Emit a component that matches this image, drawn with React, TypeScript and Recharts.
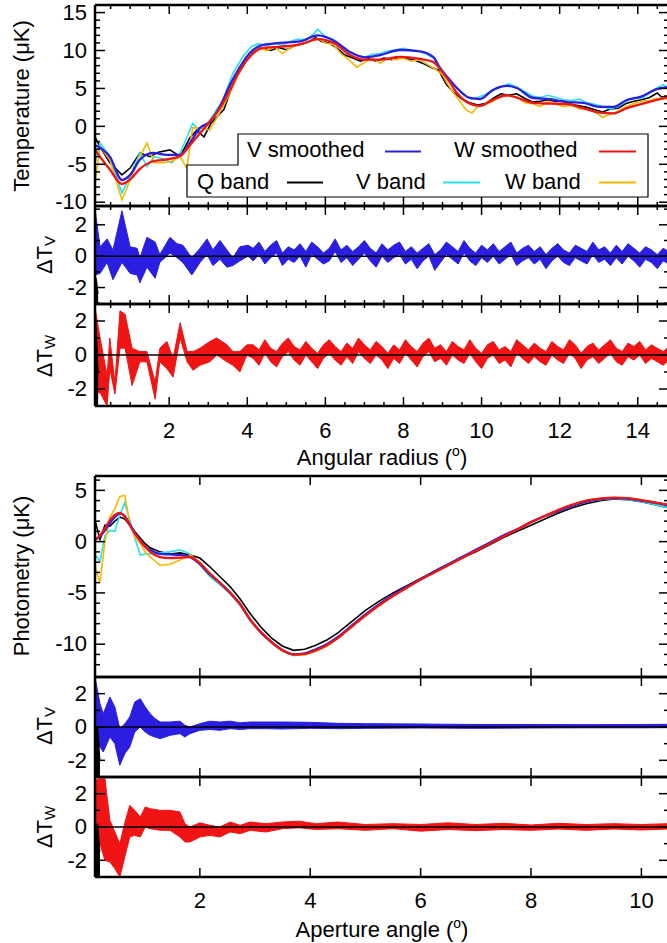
import React from 'react';
import { ComposedChart, Line, Area, XAxis, YAxis, ReferenceLine } from 'recharts';

const FONT = '"Liberation Sans", Arial, Helvetica, sans-serif';
const BLUE = '#2a1fe0';
const RED = '#f01414';
const CYAN = '#27dff0';
const GOLD = '#f5b700';

// ---- top group: angular radius profiles ----
const radiusSmooth = [0.1, 0.48, 0.79, 1.0, 1.25, 1.59, 1.94, 2.28, 2.53, 2.79, 3.04, 3.3, 3.56, 3.81, 4.07, 4.38, 4.84, 5.35, 5.81, 6.25, 6.63, 7.01, 7.4, 7.91, 8.42, 8.76, 8.93, 9.19, 9.37, 9.7, 9.96, 10.29, 10.65, 10.9, 11.32, 11.75, 12.19, 12.6, 13.03, 13.37, 13.72, 14.06, 14.49, 14.8];
const vSmoothed = [-2.45, -4.0, -7.07, -6.4, -4.4, -3.5, -3.77, -3.77, -2.2, -0.2, 0.6, 2.6, 5.5, 7.8, 9.7, 10.7, 11.0, 11.2, 12.0, 11.2, 9.8, 9.1, 9.4, 10.07, 9.9, 9.15, 7.7, 6.1, 5.06, 3.74, 3.6, 4.8, 5.33, 5.06, 3.74, 3.6, 3.2, 3.1, 2.56, 2.56, 3.48, 3.88, 4.9, 5.2];
const wSmoothed = [-3.1, -5.7, -7.6, -7.0, -5.6, -4.6, -4.35, -3.9, -2.5, -0.9, 0.6, 2.4, 4.8, 7.4, 9.2, 10.3, 10.5, 10.8, 11.5, 10.9, 9.4, 8.8, 8.8, 9.15, 8.9, 8.5, 7.6, 5.8, 4.4, 3.0, 2.7, 3.5, 4.1, 3.8, 3.1, 3.0, 2.95, 2.4, 1.8, 1.7, 2.4, 2.9, 3.5, 3.9];

const radiusQ = [0.1, 0.23, 0.48, 0.79, 1.0, 1.25, 1.51, 1.72, 2.02, 2.28, 2.53, 2.71, 2.89, 3.07, 3.4, 3.64, 3.99, 4.2, 4.4, 4.6, 4.8, 5.0, 5.2, 5.4, 5.6, 5.75, 5.9, 6.1, 6.3, 6.5, 6.7, 6.9, 7.1, 7.3, 7.5, 7.7, 7.9, 8.1, 8.3, 8.5, 8.7, 8.9, 9.1, 9.3, 9.5, 9.7, 9.9, 10.1, 10.3, 10.5, 10.7, 10.9, 11.1, 11.3, 11.5, 11.7, 11.9, 12.1, 12.3, 12.5, 12.7, 12.9, 13.1, 13.3, 13.5, 13.7, 13.9, 14.1, 14.3, 14.5, 14.6, 14.8];
const qBand = [-1.4, -2.7, -4.8, -6.4, -5.5, -3.5, -4.0, -3.4, -3.1, -4.0, -1.5, -0.5, -1.4, 0.4, 2.2, 5.7, 8.8, 10.0, 10.3, 10.0, 10.4, 10.1, 10.6, 10.9, 11.2, 11.7, 11.2, 11.0, 10.3, 9.4, 9.0, 8.6, 8.9, 8.6, 9.0, 8.8, 9.1, 8.9, 8.7, 8.3, 7.8, 7.4, 5.5, 4.4, 3.6, 3.1, 2.8, 3.0, 3.7, 4.3, 4.1, 4.3, 3.7, 3.2, 3.3, 3.5, 3.3, 3.4, 2.9, 2.7, 2.5, 2.2, 1.9, 2.3, 2.4, 3.0, 3.3, 3.5, 3.8, 4.4, 3.9, 3.9];

const radiusVW = [0.1, 0.23, 0.48, 0.79, 1.03, 1.25, 1.43, 1.62, 1.85, 2.07, 2.28, 2.45, 2.6, 2.81, 3.04, 3.38, 3.63, 3.89, 4.1, 4.3, 4.5, 4.7, 4.9, 5.1, 5.3, 5.5, 5.7, 5.8, 6.0, 6.2, 6.4, 6.6, 6.8, 7.0, 7.2, 7.4, 7.6, 7.8, 8.0, 8.2, 8.4, 8.6, 8.8, 9.0, 9.2, 9.4, 9.6, 9.75, 9.9, 10.1, 10.3, 10.5, 10.7, 10.9, 11.1, 11.3, 11.5, 11.7, 11.9, 12.1, 12.3, 12.5, 12.7, 12.9, 13.1, 13.3, 13.5, 13.7, 13.9, 14.1, 14.3, 14.5, 14.65, 14.8];
const vBand = [-4.8, -2.2, -4.0, -8.8, -6.2, -3.5, -5.3, -4.0, -4.3, -4.8, -3.5, -1.5, 0.4, -0.7, 0.8, 3.5, 7.0, 9.2, 10.5, 10.9, 10.6, 11.0, 10.7, 11.2, 11.5, 11.4, 12.2, 12.8, 11.8, 11.5, 10.5, 9.8, 9.4, 9.1, 9.5, 9.6, 9.9, 10.1, 10.3, 10.0, 9.9, 9.5, 8.9, 7.4, 6.0, 4.9, 4.0, 3.6, 3.8, 4.2, 4.8, 5.2, 5.6, 5.2, 4.6, 4.0, 3.8, 4.1, 3.8, 3.5, 3.4, 3.6, 3.1, 2.9, 2.6, 2.3, 2.6, 3.3, 3.8, 3.7, 4.4, 5.1, 5.5, 5.0];
const wBand = [-7.5, -2.7, -4.4, -9.7, -6.7, -4.0, -2.2, -4.8, -4.8, -4.6, -4.0, -5.5, -0.2, -0.2, -0.5, 2.6, 5.2, 8.2, 9.8, 10.4, 10.0, 10.5, 9.6, 10.4, 10.8, 11.0, 11.4, 11.6, 11.0, 10.8, 9.6, 8.8, 7.8, 8.4, 9.0, 8.3, 9.0, 8.8, 9.0, 8.6, 8.8, 8.2, 7.6, 6.8, 5.0, 3.6, 2.2, 1.75, 2.6, 2.9, 3.3, 4.0, 4.0, 3.9, 3.1, 3.0, 2.6, 3.3, 2.9, 2.6, 2.8, 2.3, 2.3, 1.9, 1.2, 1.6, 2.0, 2.6, 3.0, 3.3, 3.4, 3.7, 3.6, 3.6];

// residual bands, inner radii
const radiusDVInner = [0.1, 0.23, 0.41, 0.56, 0.79, 1.0, 1.18, 1.25, 1.43, 1.64, 1.76, 2.02, 2.2, 2.35, 2.58, 2.79, 2.97, 3.12, 3.3, 3.48, 3.63, 3.81, 4.02];
const dvLowInner = [-1.2, -1.1, -0.4, -1.5, -0.4, -1.1, -1.2, -1.7, -0.7, -1.4, -0.4, 0.2, -0.1, -0.4, -1.2, -0.4, 0.1, -0.6, -0.2, -0.7, -0.6, -0.3, 0.0];
const dvHighInner = [3.0, 0.6, 1.1, 0.4, 2.9, 0.6, 0.5, -0.1, 1.2, 0.9, 0.1, 1.2, 0.8, 0.7, -0.1, 0.5, 1.1, 0.4, 1.0, 0.4, -0.1, 0.6, 0.7];
const radiusDWInner = [0.1, 0.23, 0.41, 0.48, 0.61, 0.74, 0.87, 1.05, 1.25, 1.43, 1.64, 1.76, 1.94, 2.1, 2.28, 2.46, 2.61, 2.79, 3.04, 3.22, 3.48, 3.63, 3.81, 3.99];
const dwLowInner = [-2.3, -2.2, -3.0, -0.8, -2.3, 0.4, 0.4, -1.8, -0.4, -0.4, -2.6, -0.4, -0.8, -1.3, 1.0, -0.4, -0.9, -0.6, -0.4, 0.0, -0.4, -0.6, -1.0, 0.0];
const dwHighInner = [2.8, 1.0, -1.2, 1.0, -1.6, 2.6, 2.4, 0.4, 0.2, 0.2, -1.6, 0.4, 0.8, -0.2, 1.9, 0.2, 0.2, 0.4, 0.8, 1.0, 0.6, 0.2, 0.2, 0.6];

// residual bands, outer radii (shared bins)
const radiusOuter = [4.15, 4.3, 4.45, 4.6, 4.75, 4.9, 5.05, 5.2, 5.35, 5.5, 5.65, 5.8, 5.95, 6.1, 6.25, 6.4, 6.55, 6.7, 6.85, 7.0, 7.15, 7.3, 7.45, 7.6, 7.75, 7.9, 8.05, 8.2, 8.35, 8.5, 8.65, 8.8, 8.95, 9.1, 9.25, 9.4, 9.55, 9.7, 9.85, 10.0, 10.15, 10.3, 10.45, 10.6, 10.75, 10.9, 11.05, 11.2, 11.35, 11.5, 11.65, 11.8, 11.95, 12.1, 12.25, 12.4, 12.55, 12.7, 12.85, 13.0, 13.15, 13.3, 13.45, 13.6, 13.75, 13.9, 14.05, 14.2, 14.35, 14.5, 14.65, 14.8];
const dvHighOuter = [0.5, 0.9, 0.3, 0.7, 1.0, 0.2, 0.6, 0.4, 0.8, 0.3, 0.9, 0.6, 0.2, 0.5, 1.1, 0.4, 0.7, 0.3, 0.6, 1.0, 0.5, 0.2, 0.8, 0.4, 0.7, 0.9, 0.3, 0.6, 0.2, 0.5, 0.8, 0.1, 0.4, 0.9, 0.6, 0.3, 1.0, 0.5, 0.2, 0.7, 0.4, 0.8, 0.3, 0.6, 0.9, 0.2, 0.5, 0.7, 0.3, 0.6, 0.1, 0.5, 0.8, 0.4, 0.2, 0.7, 0.5, 0.3, 0.9, 0.4, 0.6, 0.2, 0.7, 0.3, 0.8, 0.5, 0.2, 0.6, 0.4, 0.1, 0.5, 0.3];
const dvLowOuter = [-0.3, 0.1, -0.5, -0.1, 0.2, -0.6, -0.2, -0.4, 0.0, -0.7, 0.1, -0.2, -0.5, -0.3, 0.3, -0.4, -0.1, -0.6, -0.2, 0.2, -0.3, -0.7, 0.0, -0.4, -0.1, 0.1, -0.5, -0.2, -0.8, -0.3, 0.0, -0.9, -0.4, 0.1, -0.2, -0.5, 0.2, -0.3, -0.6, -0.1, -0.4, 0.0, -0.5, -0.2, 0.1, -0.6, -0.3, -0.1, -0.5, -0.2, -0.8, -0.3, 0.0, -0.4, -0.6, -0.1, -0.3, -0.5, 0.1, -0.4, -0.2, -0.6, -0.1, -0.5, 0.0, -0.3, -0.7, -0.2, -0.4, -0.8, -0.3, -0.5];
const dwHighOuter = [0.6, 0.3, 0.9, 0.4, 0.2, 0.7, 1.0, 0.5, 0.3, 0.8, 0.4, 0.1, 0.6, 0.9, 0.5, 0.2, 0.7, 0.4, 1.0, 0.6, 0.3, 0.8, 0.5, 0.1, 0.6, 0.3, 0.9, 0.5, 0.2, 0.7, 1.0, 0.4, 0.6, 0.2, 0.8, 0.5, 0.3, 0.9, 0.4, 0.1, 0.6, 0.8, 0.3, 0.5, 0.2, 0.9, 0.6, 0.3, 0.7, 0.4, 0.2, 0.8, 0.5, 0.3, 0.9, 0.6, 0.1, 0.5, 0.7, 0.3, 0.6, 0.9, 0.4, 0.2, 0.7, 0.5, 0.8, 0.3, 0.6, 0.4, 0.2, 0.5];
const dwLowOuter = [-0.2, -0.6, 0.1, -0.4, -0.7, -0.1, 0.2, -0.3, -0.6, 0.0, -0.4, -0.8, -0.2, 0.1, -0.3, -0.6, -0.1, -0.5, 0.2, -0.2, -0.5, 0.0, -0.3, -0.8, -0.2, -0.5, 0.1, -0.3, -0.7, -0.1, 0.2, -0.4, -0.2, -0.6, 0.0, -0.3, -0.5, 0.1, -0.4, -0.8, -0.2, 0.0, -0.5, -0.3, -0.7, 0.1, -0.2, -0.5, -0.1, -0.4, -0.6, 0.0, -0.3, -0.5, 0.1, -0.2, -0.8, -0.3, -0.1, -0.5, -0.2, 0.1, -0.4, -0.6, -0.1, -0.3, 0.0, -0.5, -0.2, -0.4, -0.6, -0.3];

// Q-band differences only show as a dark sliver at the first bins
const radiusDQ = [0.1, 0.14, 0.18];
const dqvLow = [-3.0, -3.0, -3.0];
const dqvHigh = [-1.2, -1.5, -2.4];
const dqwLow = [-3.0, -3.0, -3.0];
const dqwHigh = [2.8, 1.2, -1.0];

// ---- bottom group: aperture photometry ----
const aperture = [0.1, 0.19, 0.28, 0.37, 0.46, 0.55, 0.64, 0.73, 0.82, 0.92, 1.01, 1.1, 1.28, 1.46, 1.64, 1.82, 2.0, 2.18, 2.36, 2.55, 2.73, 2.91, 3.1, 3.3, 3.5, 3.7, 3.9, 4.1, 4.3, 4.5, 4.75, 5.0, 5.25, 5.5, 5.75, 6.0, 6.25, 6.5, 6.75, 7.0, 7.25, 7.5, 7.75, 8.0, 8.25, 8.5, 8.75, 9.0, 9.25, 9.5, 9.75, 10.0, 10.25, 10.5];
const photoVs = [0.15, 0.5, 1.1, 1.8, 2.4, 2.75, 2.5, 1.7, 0.9, 0.1, -0.5, -0.8, -1.2, -1.25, -1.3, -1.5, -2.2, -3.2, -4.0, -5.0, -6.1, -7.6, -8.8, -9.8, -10.6, -11.0, -10.9, -10.5, -10.0, -9.3, -8.2, -7.1, -6.1, -5.2, -4.4, -3.7, -2.9, -2.2, -1.5, -0.8, -0.1, 0.6, 1.2, 1.9, 2.5, 3.0, 3.5, 3.9, 4.15, 4.25, 4.2, 4.0, 3.8, 3.5];
const photoWs = [0.15, 0.6, 1.3, 2.1, 2.6, 2.8, 2.4, 1.6, 0.8, 0.1, -0.5, -1.0, -1.5, -1.6, -1.55, -1.5, -2.1, -3.1, -4.0, -5.0, -6.1, -7.6, -8.8, -9.8, -10.6, -11.0, -10.95, -10.6, -10.1, -9.4, -8.3, -7.2, -6.2, -5.3, -4.5, -3.7, -3.0, -2.3, -1.6, -0.9, -0.2, 0.5, 1.2, 1.9, 2.5, 3.1, 3.6, 4.0, 4.2, 4.3, 4.25, 4.05, 3.8, 3.6];
const photoQ = [2.1, 0.2, 1.6, 1.5, 2.0, 2.4, 2.2, 1.6, 1.0, 0.35, -0.2, -0.6, -1.0, -1.2, -1.1, -1.3, -1.6, -2.45, -3.4, -4.4, -5.6, -7.0, -8.3, -9.4, -10.2, -10.6, -10.5, -10.1, -9.6, -8.9, -7.8, -6.7, -5.8, -5.0, -4.3, -3.6, -2.9, -2.3, -1.6, -1.0, -0.3, 0.4, 1.0, 1.6, 2.2, 2.8, 3.3, 3.7, 4.0, 4.15, 4.1, 3.9, 3.6, 3.3];
const photoV = [-1.3, -1.9, 0.6, 1.1, 1.0, 2.6, 3.8, 2.1, 0.4, -1.3, -1.2, -1.2, -1.1, -1.0, -0.8, -1.2, -2.2, -3.4, -4.2, -5.1, -6.2, -7.7, -8.9, -9.9, -10.7, -11.1, -11.0, -10.6, -10.1, -9.4, -8.3, -7.2, -6.1, -5.2, -4.4, -3.7, -2.9, -2.2, -1.5, -0.8, -0.1, 0.6, 1.2, 1.9, 2.5, 3.0, 3.5, 3.9, 4.1, 4.2, 4.1, 3.9, 3.6, 3.3];
const photoW = [-2.4, -4.0, 0.0, 2.4, 3.2, 4.4, 4.5, 1.8, 0.5, -0.2, -1.0, -1.5, -2.3, -2.2, -1.8, -1.3, -2.0, -3.2, -4.0, -5.0, -6.0, -7.5, -8.8, -9.9, -10.7, -11.1, -11.05, -10.7, -10.2, -9.4, -8.3, -7.2, -6.2, -5.3, -4.5, -3.7, -3.0, -2.3, -1.6, -0.9, -0.2, 0.5, 1.2, 1.9, 2.5, 3.1, 3.6, 4.0, 4.2, 4.3, 4.25, 4.05, 3.8, 3.55];

const apertureDV = [0.1, 0.19, 0.25, 0.37, 0.46, 0.55, 0.64, 0.73, 0.82, 0.92, 1.01, 1.1, 1.19, 1.28, 1.46, 1.64, 1.73, 1.82, 2.0, 2.18, 2.36, 2.55, 2.73, 2.91, 3.2, 3.5, 4.0, 4.5, 5.0, 6.0, 7.0, 8.0, 9.0, 10.0, 10.5];
const pdvLow = [-1.0, -1.2, -1.5, -0.6, -1.0, -2.3, -1.6, -1.2, -0.3, 0.0, -0.3, -0.5, -0.6, -0.7, -0.5, -0.4, -0.6, -0.4, -0.2, -0.15, -0.2, -0.1, -0.15, -0.1, -0.1, -0.12, -0.08, -0.1, -0.08, -0.06, -0.08, -0.06, -0.05, -0.05, -0.04];
const pdvHigh = [3.0, 1.4, 0.8, 1.8, 1.2, -0.1, 0.2, 0.6, 1.5, 1.7, 1.2, 0.8, 0.5, 0.3, 0.3, 0.35, 0.1, 0.0, 0.2, 0.35, 0.3, 0.35, 0.25, 0.3, 0.3, 0.3, 0.28, 0.22, 0.2, 0.18, 0.15, 0.15, 0.14, 0.15, 0.16];

const apertureDW = [0.1, 0.19, 0.28, 0.37, 0.46, 0.55, 0.64, 0.73, 0.82, 0.92, 1.01, 1.1, 1.28, 1.46, 1.64, 1.73, 1.82, 2.0, 2.18, 2.36, 2.55, 2.73, 2.91, 3.2, 3.5, 3.8, 4.1, 4.5, 5.0, 5.5, 6.0, 6.5, 7.0, 7.5, 8.0, 8.5, 9.0, 9.5, 10.0, 10.5];
const pdwLow = [0.2, -1.0, -2.0, -2.1, -2.5, -3.0, -1.8, -0.6, -0.5, -0.6, 0.0, -0.1, -0.2, -0.2, -0.6, -0.9, -0.9, -0.6, -0.5, -0.6, -0.3, -0.4, -0.2, -0.3, -0.1, -0.05, -0.15, -0.1, -0.2, -0.1, -0.25, -0.15, -0.22, -0.15, -0.2, -0.12, -0.2, -0.12, -0.18, -0.12];
const pdwHigh = [2.8, 2.9, 2.9, 0.4, -0.3, -1.0, 0.25, 1.3, 1.0, 0.6, 1.2, 1.1, 1.0, 1.0, 0.9, 0.2, 0.0, 0.25, 0.1, 0.0, 0.3, 0.1, 0.3, 0.2, 0.3, 0.35, 0.2, 0.3, 0.15, 0.2, 0.15, 0.25, 0.15, 0.22, 0.12, 0.22, 0.15, 0.2, 0.15, 0.2];

const apertureDQ = [0.1, 0.15, 0.19];
const pdqvLow = [-3.0, -3.0, -3.0];
const pdqvHigh = [-0.2, 0.0, -2.0];
const pdqwLow = [-3.0, -3.0, -3.0];
const pdqwHigh = [0.0, 0.2, -1.5];

// ---- ticks ----
const radiusMajor = [2, 4, 6, 8, 10, 12, 14];
const radiusTicks = Array.from({ length: 29 }, (_, i) => 0.5 + i * 0.5);
const apertureMajor = [2, 4, 6, 8, 10];
const tempMajor = [-10, -5, 0, 5, 10, 15];
const tempTicks = Array.from({ length: 26 }, (_, i) => -10 + i);
const photoMajor = [-10, -5, 0, 5];
const photoTicks = Array.from({ length: 19 }, (_, i) => -12 + i);
const deltaMajor = [-2, 0, 2];
const deltaTicks = [-3, -2, -1, 0, 1, 2, 3];

const pts = (xs: number[], ys: number[]) => xs.map((x, i) => ({ x, y: ys[i] }));
const band = (xs: number[], lo: number[], hi: number[]) => xs.map((x, i) => ({ x, r: [lo[i], hi[i]] }));

type Side = 'bottom' | 'top' | 'left' | 'right';
const isIn = (list: number[], v: number) => list.some((t) => Math.abs(t - v) < 1e-6);

const tickShape = (side: Side, majors: number[], labels: boolean, labelGap: number) => (p: any) => {
  const { x, y, payload } = p;
  const v = payload.value;
  const major = isIn(majors, v);
  const horiz = side === 'bottom' || side === 'top';
  const len = major ? (horiz ? 9 : 10) : (horiz ? 4 : 5);
  let x2 = x;
  let y2 = y;
  if (side === 'bottom') y2 = y - len;
  if (side === 'top') y2 = y + len;
  if (side === 'left') x2 = x + len;
  if (side === 'right') x2 = x - len;
  return (
    <g>
      <line x1={x} y1={y} x2={x2} y2={y2} stroke="#000" strokeWidth={1.5} />
      {labels && major && side === 'bottom' && (
        <text x={x} y={y + labelGap} textAnchor="middle" fontSize={22} fontFamily={FONT} fill="#000">{v}</text>
      )}
      {labels && major && side === 'left' && (
        <text x={x - 8} y={y} dy="0.33em" textAnchor="end" fontSize={22} fontFamily={FONT} fill="#000">{v}</text>
      )}
    </g>
  );
};

// plot area geometry (px); axes are given 1px so that Recharts draws them
const PLOT_LEFT = 95;
const PLOT_W = 574;
const MT = 4;
const MB = 46;
const MR = 12;

interface PanelProps {
  top: number;
  height: number;
  xDomain: [number, number];
  xMajor: number[];
  xTicks: number[];
  yDomain: [number, number];
  yMajor: number[];
  yTicks: number[];
  xLabels?: boolean;
  labelGap?: number;
  zero?: boolean;
  children?: React.ReactNode;
}

const axisLine = { stroke: '#000', strokeWidth: 2.5 };

const Panel = ({ top, height, xDomain, xMajor, xTicks, yDomain, yMajor, yTicks, xLabels = false, labelGap = 32, zero = false, children }: PanelProps) => (
  <div style={{ position: 'absolute', left: 0, top: top - MT }}>
    <ComposedChart
      width={PLOT_LEFT + PLOT_W + MR}
      height={height + MT + MB}
      margin={{ top: MT - 1, right: MR - 1, bottom: MB - 1, left: PLOT_LEFT - 1 }}
    >
      <XAxis xAxisId={0} type="number" dataKey="x" domain={xDomain} allowDataOverflow ticks={xTicks} interval={0}
        height={1} tickSize={0} tickMargin={0} tickLine={false} axisLine={axisLine}
        tick={tickShape('bottom', xMajor, xLabels, labelGap)} />
      <XAxis xAxisId="t" orientation="top" type="number" dataKey="x" domain={xDomain} allowDataOverflow ticks={xTicks} interval={0}
        height={1} tickSize={0} tickMargin={0} tickLine={false} axisLine={axisLine}
        tick={tickShape('top', xMajor, false, 0)} />
      <YAxis yAxisId={0} type="number" domain={yDomain} allowDataOverflow ticks={yTicks} interval={0}
        width={1} tickSize={0} tickMargin={0} tickLine={false} axisLine={axisLine}
        tick={tickShape('left', yMajor, true, 0)} />
      <YAxis yAxisId="r" orientation="right" type="number" domain={yDomain} allowDataOverflow ticks={yTicks} interval={0}
        width={1} tickSize={0} tickMargin={0} tickLine={false} axisLine={axisLine}
        tick={tickShape('right', yMajor, false, 0)} />
      {children}
      {zero && <ReferenceLine y={0} stroke="#000" strokeWidth={1.5} />}
    </ComposedChart>
  </div>
);

const smoothLine = (data: any[], color: string) => (
  <Line data={data} dataKey="y" type="monotone" stroke={color} strokeWidth={2.3} dot={false} isAnimationActive={false} />
);
const bandLine = (data: any[], color: string) => (
  <Line data={data} dataKey="y" type="linear" stroke={color} strokeWidth={1.6} dot={false} isAnimationActive={false} />
);
const diffArea = (data: any[], color: string) => (
  <Area data={data} dataKey="r" type="linear" stroke={color} strokeWidth={1} fill={color} fillOpacity={1} isAnimationActive={false} />
);

const Deg = () => (
  <>
    <tspan dy={-9} fontSize={14}>o</tspan>
    <tspan dy={9}>)</tspan>
  </>
);

export default function App() {
  const rDomain: [number, number] = [0.1, 14.8];
  const aDomain: [number, number] = [0.1, 10.5];
  const dDomain: [number, number] = [-3, 3];
  const dvData = band(radiusDVInner.concat(radiusOuter), dvLowInner.concat(dvLowOuter), dvHighInner.concat(dvHighOuter));
  const dwData = band(radiusDWInner.concat(radiusOuter), dwLowInner.concat(dwLowOuter), dwHighInner.concat(dwHighOuter));
  return (
    <div style={{ position: 'absolute', left: 0, top: 0, width: 667, height: 943, overflow: 'hidden', background: '#fff', fontFamily: FONT }}>
      <Panel top={5} height={201} xDomain={rDomain} xMajor={radiusMajor} xTicks={radiusTicks} yDomain={[-10.5, 16]} yMajor={tempMajor} yTicks={tempTicks}>
        {bandLine(pts(radiusQ, qBand), '#000')}
        {bandLine(pts(radiusVW, vBand), CYAN)}
        {bandLine(pts(radiusVW, wBand), GOLD)}
        {smoothLine(pts(radiusSmooth, vSmoothed), BLUE)}
        {smoothLine(pts(radiusSmooth, wSmoothed), RED)}
      </Panel>
      <Panel top={206} height={98} xDomain={rDomain} xMajor={radiusMajor} xTicks={radiusTicks} yDomain={[-3.05, 3.2]} yMajor={deltaMajor} yTicks={deltaTicks} zero>
        {diffArea(band(radiusDQ, dqvLow, dqvHigh), '#000')}
        {diffArea(dvData, BLUE)}
      </Panel>
      <Panel top={304} height={102} xDomain={rDomain} xMajor={radiusMajor} xTicks={radiusTicks} yDomain={dDomain} yMajor={deltaMajor} yTicks={deltaTicks} zero xLabels labelGap={32}>
        {diffArea(dwData, RED)}
        {diffArea(band(radiusDQ, dqwLow, dqwHigh), '#000')}
      </Panel>

      <Panel top={476} height={201} xDomain={aDomain} xMajor={apertureMajor} xTicks={apertureMajor} yDomain={[-13.2, 6.4]} yMajor={photoMajor} yTicks={photoTicks}>
        {bandLine(pts(aperture, photoQ), '#000')}
        {bandLine(pts(aperture, photoV), CYAN)}
        {bandLine(pts(aperture, photoW), GOLD)}
        {smoothLine(pts(aperture, photoVs), BLUE)}
        {smoothLine(pts(aperture, photoWs), RED)}
      </Panel>
      <Panel top={677} height={100} xDomain={aDomain} xMajor={apertureMajor} xTicks={apertureMajor} yDomain={dDomain} yMajor={deltaMajor} yTicks={deltaTicks} zero>
        {diffArea(band(apertureDV, pdvLow, pdvHigh), BLUE)}
        {diffArea(band(apertureDQ, pdqvLow, pdqvHigh), '#000')}
      </Panel>
      <Panel top={777} height={100} xDomain={aDomain} xMajor={apertureMajor} xTicks={apertureMajor} yDomain={dDomain} yMajor={deltaMajor} yTicks={deltaTicks} zero xLabels labelGap={31}>
        {diffArea(band(apertureDW, pdwLow, pdwHigh), RED)}
        {diffArea(band(apertureDQ, pdqwLow, pdqwHigh), '#000')}
      </Panel>

      <svg width={667} height={943} style={{ position: 'absolute', left: 0, top: 0, pointerEvents: 'none' }} fontFamily={FONT} fontSize={22}>
        <text transform="translate(29,106) rotate(-90)" textAnchor="middle">Temperature (μK)</text>
        <text transform="translate(52,255) rotate(-90)" textAnchor="middle">ΔT<tspan fontSize={15} dy={3}>V</tspan></text>
        <text transform="translate(52,356) rotate(-90)" textAnchor="middle">ΔT<tspan fontSize={15} dy={3}>W</tspan></text>
        <text x={382} y={465} textAnchor="middle">Angular radius (<Deg /></text>

        <text transform="translate(29,576) rotate(-90)" textAnchor="middle">Photometry (μK)</text>
        <text transform="translate(52,726) rotate(-90)" textAnchor="middle">ΔT<tspan fontSize={15} dy={3}>V</tspan></text>
        <text transform="translate(52,827) rotate(-90)" textAnchor="middle">ΔT<tspan fontSize={15} dy={3}>W</tspan></text>
        <text x={382} y={937} textAnchor="middle">Aperture angle (<Deg /></text>

        <polygon points="238,134 648,134 648,197 187,197 187,165 238,165" fill="#fff" stroke="#000" strokeWidth={1.2} />
        <text x={247} y={157}>V smoothed</text>
        <line x1={385} y1={151.5} x2={421} y2={151.5} stroke={BLUE} strokeWidth={2} />
        <text x={454} y={157}>W smoothed</text>
        <line x1={599} y1={151.5} x2={636} y2={151.5} stroke={RED} strokeWidth={2} />
        <text x={197} y={189}>Q band</text>
        <line x1={287} y1={182.5} x2={323} y2={182.5} stroke="#000" strokeWidth={2} />
        <text x={356} y={189}>V band</text>
        <line x1={443} y1={182.5} x2={480} y2={182.5} stroke={CYAN} strokeWidth={2} />
        <text x={505} y={189}>W band</text>
        <line x1={599} y1={182.5} x2={636} y2={182.5} stroke={GOLD} strokeWidth={2} />
      </svg>
    </div>
  );
}
